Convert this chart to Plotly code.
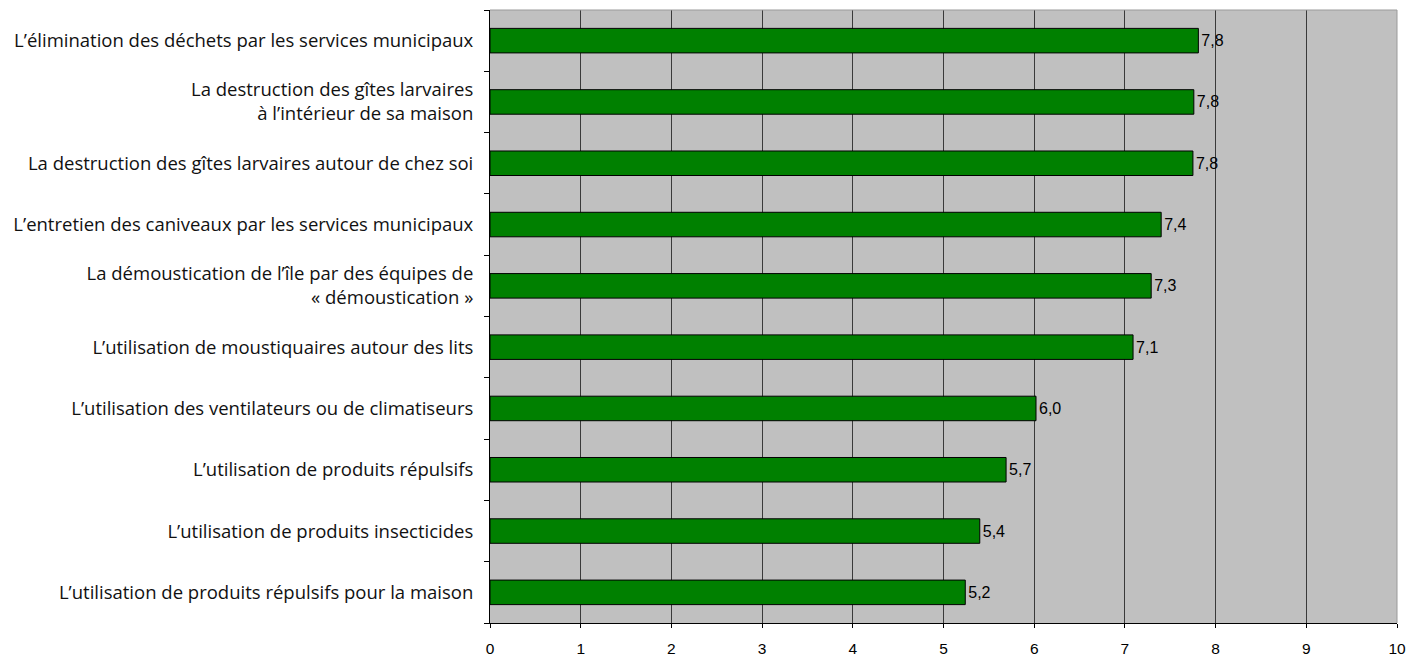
import plotly.graph_objects as go

categories = [
    "L’élimination des déchets par les services municipaux",
    "La destruction des gîtes larvaires<br>à l’intérieur de sa maison",
    "La destruction des gîtes larvaires autour de chez soi",
    "L’entretien des caniveaux par les services municipaux",
    "La démoustication de l’île par des équipes de<br>« démoustication »",
    "L’utilisation de moustiquaires autour des lits",
    "L’utilisation des ventilateurs ou de climatiseurs",
    "L’utilisation de produits répulsifs",
    "L’utilisation de produits insecticides",
    "L’utilisation de produits répulsifs pour la maison",
]
values = [7.81, 7.76, 7.75, 7.40, 7.29, 7.09, 6.02, 5.69, 5.40, 5.24]
value_labels = ["7,8", "7,8", "7,8", "7,4", "7,3", "7,1", "6,0", "5,7", "5,4", "5,2"]
x_ticks = [0, 1, 2, 3, 4, 5, 6, 7, 8, 9, 10]

fig = go.Figure(go.Bar(
    x=values, y=categories, orientation="h",
    marker=dict(color="#008000", line=dict(color="#000000", width=1)),
    text=value_labels, textposition="outside", cliponaxis=False,
    constraintext="none",
    textfont=dict(family="Liberation Sans", size=16, color="#000000"),
))

# page body has an 8px offset; margins compensate so the plot area lands at x 490-1397, y 10-623
fig.update_layout(
    width=1423, height=654,
    margin=dict(l=482, r=34, t=2, b=39),
    paper_bgcolor="#ffffff", plot_bgcolor="#c0c0c0",
    bargap=0.6, showlegend=False,
    font=dict(family="Liberation Sans", color="#000000"),
    xaxis=dict(range=[0, 10], tickvals=x_ticks, ticktext=[str(t) for t in x_ticks],
               showgrid=True, gridcolor="#3a3a3a", gridwidth=1,
               showline=True, linecolor="#000000", linewidth=1,
               ticks="outside", ticklen=4, tickcolor="#000000",
               ticklabelstandoff=7,
               tickfont=dict(family="Liberation Sans", size=15.5, color="#000000"),
               zeroline=False, fixedrange=True),
    yaxis=dict(categoryorder="array", categoryarray=categories[::-1],
               showline=True, linecolor="#000000", linewidth=1,
               ticks="outside", ticklen=5, tickcolor="#000000", tickson="boundaries",
               ticklabelstandoff=12,
               tickfont=dict(family="Open Sans", size=18.5, color="#111111"),
               showgrid=False, fixedrange=True),
    shapes=[
        dict(type="line", xref="paper", yref="paper", x0=0, x1=1, y0=1, y1=1,
             line=dict(color="#9a9a9a", width=1)),
        dict(type="line", xref="paper", yref="paper", x0=1, x1=1, y0=0, y1=1,
             line=dict(color="#9a9a9a", width=1)),
    ],
)

fig.write_html("out.html")
